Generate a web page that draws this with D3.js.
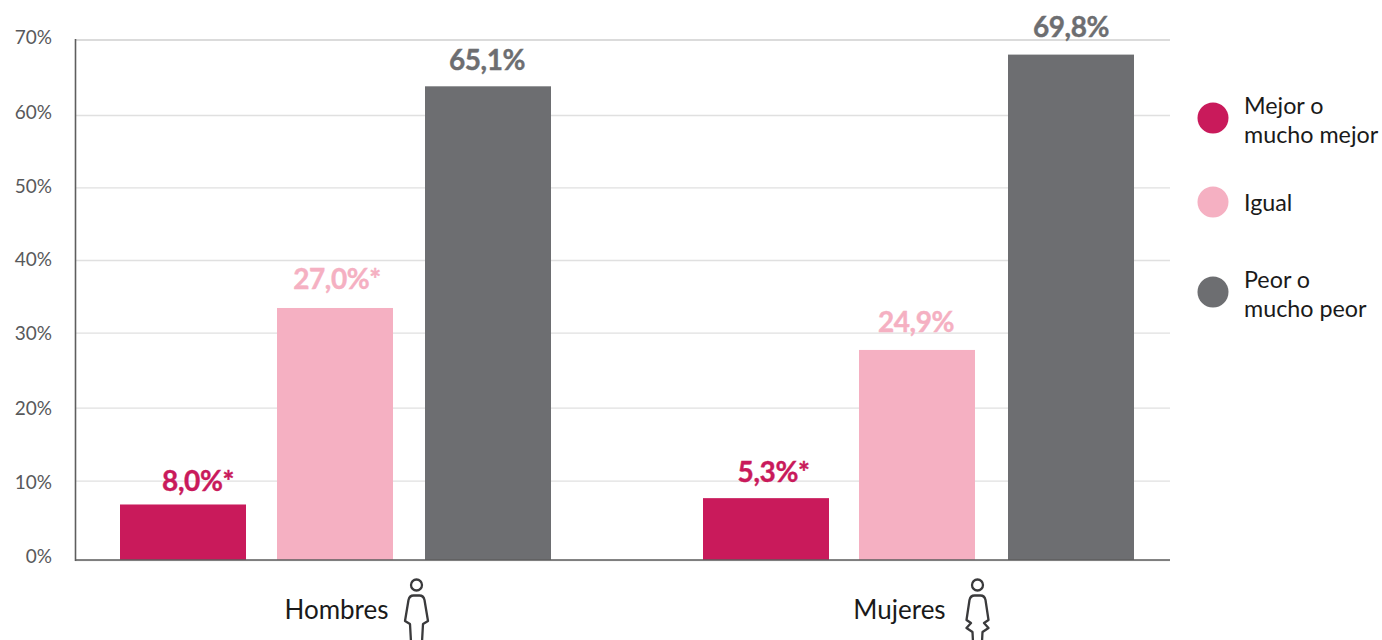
<!DOCTYPE html>
<html><head><meta charset="utf-8">
<script src="https://cdn.jsdelivr.net/npm/d3@7/dist/d3.min.js"></script>
<style>html,body{margin:0;padding:0;background:#fff}svg{display:block}text{font-family:Lato,"Noto Sans",sans-serif}</style>
</head><body><div id="chart"></div>
<script>
const categories = ["Hombres","Mujeres"];
const seriesNames = ["Mejor o mucho mejor","Igual","Peor o mucho peor"];
const hombresValues = [7.0,33.4,63.8];
const mujeresValues = [7.8,27.7,68.0];
const hombresLabels = ["8,0%*","27,0%*","65,1%"];
const mujeresLabels = ["5,3%*","24,9%","69,8%"];
const tickValues = [0,10,20,30,40,50,60,70];
const legendLines = [["Mejor o","mucho mejor"],["Igual"],["Peor o","mucho peor"]];
const colors = ["#C91A5B","#F5B0C2","#6D6E71"];

const W=1382,H=640;
const svg=d3.select("#chart").append("svg").attr("width",W).attr("height",H);
// The source chart's gridlines are slightly irregular, so the scale is piecewise.
const y=d3.scaleLinear().domain(tickValues).range([560,480.7,407.7,332.7,260,187.3,115,39.5]);
const labelY=d3.scaleLinear().domain(tickValues).range([556,482,408,333,259,186,112,37]);
const keys=categories.flatMap(c=>seriesNames.map(s=>c+"|"+s));
const xLeft=d3.scaleOrdinal().domain(keys).range([120,277,425,703,859,1008]);
const barW=d3.scaleOrdinal().domain(seriesNames).range([126,116,126]);
const color=d3.scaleOrdinal().domain(seriesNames).range(colors);
// The value labels sit irregularly above the bars in the source.
const valueX=d3.scaleOrdinal().domain(keys).range([198,337,487,773.5,916,1071]);
const valueGap=d3.scaleOrdinal().domain(keys).range([13,19,16,16,18,18]);

// gridlines
const grid=svg.append("g").attr("transform","translate(75,0)")
  .call(d3.axisRight(y).tickValues(tickValues).tickSize(1095).tickFormat(""));
grid.select(".domain").remove();
grid.selectAll("line").attr("stroke",d=>d===70?"#CFCFCF":"#E0E0E0").attr("stroke-width",1.3);

// tick labels
const tl=svg.append("g").attr("transform","translate(52,0)")
  .call(d3.axisLeft(labelY).tickValues(tickValues).tickSize(0).tickPadding(0).tickFormat(d=>d+"%"));
tl.select(".domain").remove();
tl.selectAll("text").attr("fill","#58595B").attr("font-size",19).style("font-family","Lato");

// bars
const rows=categories.flatMap((c,i)=>seriesNames.map((s,j)=>({
  c,s,k:c+"|"+s,v:(i?mujeresValues:hombresValues)[j],l:(i?mujeresLabels:hombresLabels)[j]})));
svg.append("g").selectAll("rect").data(rows).join("rect")
  .attr("x",d=>xLeft(d.k)).attr("width",d=>barW(d.s))
  .attr("y",d=>y(d.v)).attr("height",d=>y(0)-y(d.v)).attr("fill",d=>color(d.s));

// axis lines
const axisG=svg.append("g").attr("stroke","#5E5E5E");
axisG.append("line").attr("x1",75.5).attr("x2",75.5).attr("y1",y(70)-0.5).attr("y2",y(0)+1).attr("stroke-width",1.6);
axisG.append("line").attr("x1",75).attr("x2",1170).attr("y1",y(0)).attr("y2",y(0)).attr("stroke-width",1.6);

// value labels
svg.append("g").selectAll("text").data(rows).join("text")
  .attr("x",d=>valueX(d.k))
  .attr("y",d=>y(d.v)-valueGap(d.k))
  .attr("text-anchor","middle").attr("font-size",28).attr("font-weight",700)
  .attr("letter-spacing",-0.4)
  .attr("fill",d=>color(d.s)).attr("stroke",d=>color(d.s)).attr("stroke-width",0.4).text(d=>d.l);

// category labels
const catX=d3.scaleOrdinal().domain(categories).range([336.5,899.5]);
svg.append("g").selectAll("text").data(categories).join("text")
  .attr("x",d=>catX(d)).attr("y",619).attr("text-anchor","middle")
  .attr("font-size",26).attr("fill","#1A1A1A").text(d=>d);

// icons
const icon=svg.append("g").attr("fill","none").attr("stroke","#3A3A3C").attr("stroke-width",2.3).attr("stroke-linejoin","round");
const man=icon.append("g").attr("transform","translate(416.5,0)");
man.append("circle").attr("cx",0).attr("cy",585).attr("r",5.5);
man.append("path").attr("d","M-5.5,642 L-6.5,624 L-11.5,621 L-8,600 Q-7,595.5 -3,595.5 H3 Q7,595.5 8,600 L11.5,621 L6.5,624 L5.5,642");
const woman=icon.append("g").attr("transform","translate(977.5,0)");
woman.append("circle").attr("cx",0).attr("cy",585).attr("r",5.5);
woman.append("path").attr("d","M-4.5,642 L-5,632 L-11,628 L-6.5,623 L-11,620 L-8,600 Q-7,595.5 -3,595.5 H3 Q7,595.5 8,600 L11,620 L6.5,623 L11,628 L5,632 L4.5,642");

// legend
const legY=d3.scaleOrdinal().domain(seriesNames).range([118,202,292]);
const leg=svg.append("g").selectAll("g").data(seriesNames).join("g");
leg.append("circle").attr("cx",1213).attr("cy",d=>legY(d)).attr("r",15.5).attr("fill",d=>color(d));
leg.each(function(d,i){
  const lines=legendLines[i];
  const t=d3.select(this).append("text").attr("font-size",23.3).attr("fill","#1A1A1A");
  lines.forEach((ln,k)=>t.append("tspan").attr("x",1244)
    .attr("y",legY(d)+(lines.length===2?(k?25:-4):9)).text(ln));
});
</script></body></html>
